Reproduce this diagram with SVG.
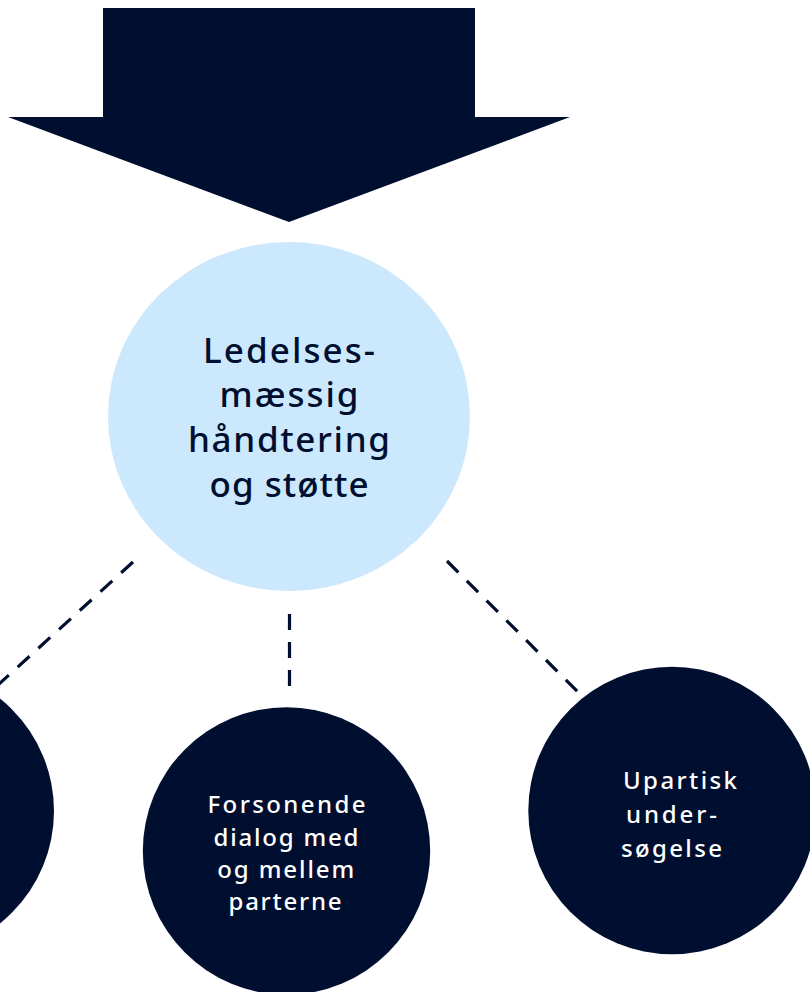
<svg xmlns="http://www.w3.org/2000/svg" width="810" height="992" viewBox="0 0 810 992">
<style>
.dark{fill:#000E2F}
.light{fill:#CCE8FD}
.dash{stroke:#000E2F;stroke-width:3.2;stroke-dasharray:16 12;fill:none}
.t{font-family:"Noto Sans","DejaVu Sans",sans-serif;font-weight:500;text-anchor:middle}
.big{font-size:35px;fill:#000E2F}
.small{font-size:24px;fill:#FFFFFF}
.sl{font-family:"Noto Sans","DejaVu Sans",sans-serif;font-weight:500;font-size:24px;fill:#FFFFFF}
</style>
<rect width="810" height="992" fill="#FFFFFF"/>
<g id="arrow">
<polygon class="dark" points="103,8 475,8 475,117 570,117 289,222 8,117 103,117"/>
</g>
<g id="connectors">
<line class="dash" x1="133" y1="562" x2="-2" y2="685"/>
<line class="dash" x1="289.5" y1="614" x2="289.5" y2="688"/>
<line class="dash" x1="447" y1="561" x2="578" y2="692"/>
</g>
<g id="node-center">
<ellipse class="light" cx="289" cy="416.5" rx="181" ry="174.5"/>
<text class="t big" x="289" y="363" textLength="172" lengthAdjust="spacing">Ledelses-</text>
<text class="t big" x="289" y="407" textLength="139" lengthAdjust="spacing">mæssig</text>
<text class="t big" x="289" y="452" textLength="202" lengthAdjust="spacing">håndtering</text>
<text class="t big" x="289" y="497" textLength="159" lengthAdjust="spacing">og støtte</text>
</g>
<g id="node-left">
<circle class="dark" cx="-90" cy="811" r="144"/>
</g>
<g id="node-middle">
<circle class="dark" cx="286.5" cy="851" r="143.7"/>
<text class="t small" x="286.5" y="812.5" textLength="158" lengthAdjust="spacing">Forsonende</text>
<text class="t small" x="286" y="846" textLength="145" lengthAdjust="spacing">dialog med</text>
<text class="t small" x="285.7" y="878" textLength="137" lengthAdjust="spacing">og mellem</text>
<text class="t small" x="285" y="910" textLength="113" lengthAdjust="spacing">parterne</text>
</g>
<g id="node-right">
<circle class="dark" cx="672" cy="810.5" r="143.7"/>
<text class="sl" x="623" y="789" textLength="114" lengthAdjust="spacing">Upartisk</text>
<text class="sl" x="626" y="823" textLength="91" lengthAdjust="spacing">under-</text>
<text class="sl" x="621" y="857" textLength="101" lengthAdjust="spacing">søgelse</text>
</g>
</svg>
